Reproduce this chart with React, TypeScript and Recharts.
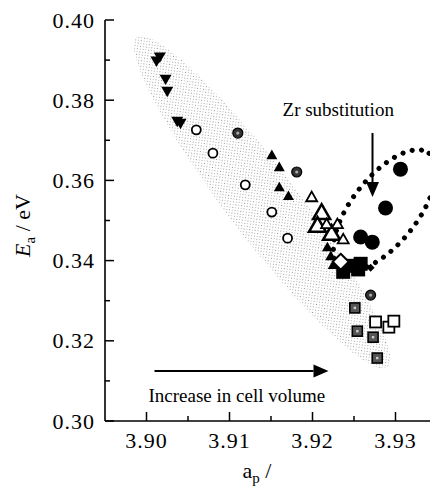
import {
  ReferenceDot,
  ReferenceLine,
  Scatter,
  ScatterChart,
  XAxis,
  YAxis,
} from 'recharts';

const SERIF = '"Liberation Serif", "Times New Roman", serif';

// lattice parameter a_p vs activation energy Ea (eV)
const downTriangles = [
  [3.9012, 0.39], [3.9016, 0.391], [3.9023, 0.3855], [3.9025, 0.3825],
  [3.9037, 0.375], [3.9041, 0.3745],
];
const openCircles = [
  [3.906, 0.3726], [3.908, 0.3668], [3.9119, 0.3589], [3.9151, 0.3521],
  [3.917, 0.3456],
];
const dotCircles = [[3.911, 0.3718], [3.9181, 0.3621], [3.927, 0.3314]];
const upTriangles = [
  [3.9151, 0.3661], [3.916, 0.3631], [3.916, 0.3581], [3.9171, 0.3559],
  [3.9218, 0.3431], [3.9222, 0.3409], [3.9225, 0.3387],
];
const openTrianglesLarge = [[3.9211, 0.3516], [3.9206, 0.3484], [3.9223, 0.3464]];
const openTrianglesSmall = [
  [3.9199, 0.3556], [3.9217, 0.3489], [3.923, 0.3489], [3.9237, 0.3451],
];
const filledSquares = [
  [3.9243, 0.3387], [3.9258, 0.3392], [3.9255, 0.3378], [3.9237, 0.3372],
];
const openDiamonds = [[3.9234, 0.3397]];
const smallDiamonds = [[3.927, 0.3382]];
const zrCircles = [[3.9258, 0.3459], [3.9272, 0.3446], [3.9288, 0.3531], [3.9306, 0.3628]];
const dotSquares = [[3.9251, 0.3282], [3.9254, 0.3224], [3.9273, 0.3209], [3.9278, 0.3157]];
const openSquares = [[3.9276, 0.3247], [3.9292, 0.3234], [3.9298, 0.3249]];

const xTicks = [3.9, 3.905, 3.91, 3.915, 3.92, 3.925, 3.93];
const yTicks = [0.3, 0.31, 0.32, 0.33, 0.34, 0.35, 0.36, 0.37, 0.38, 0.39, 0.4];

const toPts = (arr: number[][]) => arr.map(([x, y]) => ({ x, y }));

const tri = (cx: number, cy: number, s: number, down: boolean) => {
  const h = s * 0.87;
  const sg = down ? -1 : 1;
  return `${cx - s / 2},${cy + (sg * h) / 3} ${cx + s / 2},${cy + (sg * h) / 3} ${cx},${cy - (sg * 2 * h) / 3}`;
};

const shapes: Record<string, (p: any) => any> = {
  downTri: ({ cx, cy }) => <polygon points={tri(cx, cy, 12, true)} fill="#000" />,
  openCircle: ({ cx, cy }) => (
    <circle cx={cx} cy={cy} r={4.5} fill="#fff" stroke="#000" strokeWidth={1.8} />
  ),
  dotCircle: ({ cx, cy }) => (
    <g>
      <circle cx={cx} cy={cy} r={5} fill="#333" stroke="#000" strokeWidth={1.2} />
      <circle cx={cx} cy={cy} r={1.6} fill="#aaa" />
    </g>
  ),
  upTri: ({ cx, cy }) => <polygon points={tri(cx, cy, 11, false)} fill="#000" />,
  openTriLarge: ({ cx, cy }) => (
    <polygon points={tri(cx, cy, 17, false)} fill="#fff" stroke="#000" strokeWidth={2.5} strokeLinejoin="miter" />
  ),
  openTriSmall: ({ cx, cy }) => (
    <polygon points={tri(cx, cy, 11, false)} fill="#fff" stroke="#000" strokeWidth={1.8} />
  ),
  filledSquare: ({ cx, cy }) => <rect x={cx - 7} y={cy - 7} width={14} height={14} fill="#000" />,
  openDiamond: ({ cx, cy }) => (
    <polygon
      points={`${cx},${cy - 8} ${cx + 8},${cy} ${cx},${cy + 8} ${cx - 8},${cy}`}
      fill="#fff"
      stroke="#000"
      strokeWidth={2}
    />
  ),
  smallDiamond: ({ cx, cy }) => (
    <polygon points={`${cx},${cy - 4} ${cx + 4},${cy} ${cx},${cy + 4} ${cx - 4},${cy}`} fill="#000" />
  ),
  zrCircle: ({ cx, cy }) => <circle cx={cx} cy={cy} r={7.5} fill="#000" />,
  dotSquare: ({ cx, cy }) => (
    <g>
      <rect x={cx - 5} y={cy - 5} width={10} height={10} fill="#555" stroke="#000" strokeWidth={1.6} />
      <rect x={cx - 1.2} y={cy - 1.2} width={2.4} height={2.4} fill="#ccc" />
    </g>
  ),
  openSquare: ({ cx, cy }) => (
    <rect x={cx - 5.5} y={cy - 5.5} width={11} height={11} fill="#fff" stroke="#000" strokeWidth={1.8} />
  ),
};

const isMajorX = (v: number) => Math.round(v * 1000) % 10 === 0;
const isMajorY = (v: number) => Math.round(v * 100) % 2 === 0;

const tickText = { fontFamily: SERIF, fontSize: 22, letterSpacing: 1, fill: '#000' };

function BottomTick({ x, y, payload }: any) {
  const major = isMajorX(payload.value);
  return (
    <g>
      <line x1={x} x2={x} y1={y} y2={y - (major ? 9 : 5)} stroke="#000" strokeWidth={1.5} />
      {major && (
        <text x={x} y={y + 27} textAnchor="middle" {...tickText}>
          {payload.value.toFixed(2)}
        </text>
      )}
    </g>
  );
}

function TopTick({ x, y, payload }: any) {
  const major = isMajorX(payload.value);
  return <line x1={x} x2={x} y1={y} y2={y + (major ? 9 : 5)} stroke="#000" strokeWidth={1.5} />;
}

function LeftTick({ x, y, payload }: any) {
  const major = isMajorY(payload.value);
  return (
    <g>
      <line x1={x} x2={x + (major ? 9 : 5)} y1={y} y2={y} stroke="#000" strokeWidth={1.5} />
      {major && (
        <text x={x - 10} y={y + 7.5} textAnchor="end" {...tickText}>
          {payload.value.toFixed(2)}
        </text>
      )}
    </g>
  );
}

function RightTick({ x, y, payload }: any) {
  const major = isMajorY(payload.value);
  return <line x1={x} x2={x - (major ? 9 : 5)} y1={y} y2={y} stroke="#000" strokeWidth={1.5} />;
}

function ArrowShape({ x1, y1, x2, y2 }: any) {
  const len = Math.hypot(x2 - x1, y2 - y1) || 1;
  const ux = (x2 - x1) / len;
  const uy = (y2 - y1) / len;
  const hl = 15;
  const hw = 6.5;
  const bx = x2 - ux * hl;
  const by = y2 - uy * hl;
  return (
    <g>
      <line x1={x1} y1={y1} x2={bx} y2={by} stroke="#000" strokeWidth={2} />
      <polygon
        points={`${x2},${y2} ${bx - uy * hw},${by + ux * hw} ${bx + uy * hw},${by - ux * hw}`}
        fill="#000"
      />
    </g>
  );
}

const series = [
  { key: 'openTriLarge', data: openTrianglesLarge },
  { key: 'openTriSmall', data: openTrianglesSmall },
  { key: 'upTri', data: upTriangles },
  { key: 'downTri', data: downTriangles },
  { key: 'openCircle', data: openCircles },
  { key: 'dotCircle', data: dotCircles },
  { key: 'filledSquare', data: filledSquares },
  { key: 'openDiamond', data: openDiamonds },
  { key: 'smallDiamond', data: smallDiamonds },
  { key: 'zrCircle', data: zrCircles },
  { key: 'dotSquare', data: dotSquares },
  { key: 'openSquare', data: openSquares },
];

export default function App() {
  return (
    <div
      style={{
        position: 'absolute',
        left: 0,
        top: 0,
        width: 430,
        height: 489,
        overflow: 'hidden',
        background: '#fff',
      }}
    >
      <ScatterChart width={445} height={489} margin={{ top: 20, right: 8, bottom: 0, left: 0 }}>
        <defs>
          <pattern id="stipple" width="4" height="4" patternUnits="userSpaceOnUse">
            <rect x="0" y="0" width="1" height="1" fill="#999" />
            <rect x="2" y="2" width="1" height="1" fill="#bbb" />
          </pattern>
        </defs>
        <XAxis
          type="number"
          dataKey="x"
          domain={[3.895, 3.935]}
          ticks={xTicks}
          interval={0}
          height={68}
          tickSize={0}
          tickMargin={0}
          tickLine={false}
          tick={BottomTick}
          allowDataOverflow
          axisLine={{ stroke: '#000', strokeWidth: 1.6 }}
          label={{
            content: ({ viewBox }: any) => (
              <text x={viewBox.x + 152} y={viewBox.y + 57} textAnchor="middle" fontFamily={SERIF} fontSize={22}>
                a<tspan fontSize={15} dy={5}>p</tspan>
                <tspan dy={-5}>{'  /'}</tspan>
              </text>
            ),
          }}
        />
        <XAxis
          xAxisId="top"
          orientation="top"
          type="number"
          dataKey="x"
          domain={[3.895, 3.935]}
          ticks={xTicks}
          interval={0}
          height={0}
          tickSize={0}
          tickMargin={0}
          tickLine={false}
          tick={TopTick}
          allowDataOverflow
          axisLine={{ stroke: '#000', strokeWidth: 1.6 }}
        />
        <YAxis
          type="number"
          dataKey="y"
          domain={[0.3, 0.4]}
          ticks={yTicks}
          interval={0}
          width={105}
          tickSize={0}
          tickMargin={0}
          tickLine={false}
          tick={LeftTick}
          allowDataOverflow
          axisLine={{ stroke: '#000', strokeWidth: 1.6 }}
          label={{
            content: ({ viewBox }: any) => {
              const cx = viewBox.x + 30;
              const cy = viewBox.y + viewBox.height / 2 + 5;
              return (
                <text
                  x={cx}
                  y={cy}
                  transform={`rotate(-90 ${cx} ${cy})`}
                  textAnchor="middle"
                  fontFamily={SERIF}
                  fontSize={22}
                >
                  <tspan fontStyle="italic">E</tspan>
                  <tspan fontSize={15} dy={5}>a</tspan>
                  <tspan dy={-5}>{' / eV'}</tspan>
                </text>
              );
            },
          }}
        />
        <YAxis
          yAxisId="right"
          orientation="right"
          type="number"
          dataKey="y"
          domain={[0.3, 0.4]}
          ticks={yTicks}
          interval={0}
          width={0}
          tickSize={0}
          tickMargin={0}
          tickLine={false}
          tick={RightTick}
          allowDataOverflow
          axisLine={{ stroke: '#000', strokeWidth: 1.6 }}
        />

        {/* stippled guide band */}
        <ReferenceDot
          x={3.9139}
          y={0.3546}
          r={0}
          shape={({ cx, cy }: any) => (
            <ellipse
              cx={cx}
              cy={cy}
              rx={207}
              ry={35}
              transform={`rotate(52.8 ${cx} ${cy})`}
              fill="url(#stipple)"
              stroke="none"
            />
          )}
        />
        {/* dotted Zr group outline */}
        <ReferenceDot
          x={3.9287}
          y={0.3526}
          r={0}
          shape={({ cx, cy }: any) => (
            <ellipse
              cx={cx}
              cy={cy}
              rx={72}
              ry={33}
              transform={`rotate(-52 ${cx} ${cy})`}
              fill="none"
              stroke="#000"
              strokeWidth={5}
              strokeDasharray="0 9.5"
              strokeLinecap="round"
            />
          )}
        />

        {series.map((s) => (
          <Scatter
            key={s.key}
            data={toPts(s.data)}
            shape={shapes[s.key]}
            isAnimationActive={false}
          />
        ))}

        <ReferenceLine
          segment={[
            { x: 3.92723, y: 0.37182 },
            { x: 3.92723, y: 0.35586 },
          ]}
          shape={ArrowShape}
        />
        <ReferenceLine
          segment={[
            { x: 3.90096, y: 0.31247 },
            { x: 3.92193, y: 0.31247 },
          ]}
          shape={ArrowShape}
        />
        <ReferenceDot
          x={3.91639}
          y={0.37606}
          r={0}
          shape={({ cx, cy }: any) => (
            <text x={cx} y={cy} fontFamily={SERIF} fontSize={19} fill="#000">
              Zr substitution
            </text>
          )}
        />
        <ReferenceDot
          x={3.90024}
          y={0.30474}
          r={0}
          shape={({ cx, cy }: any) => (
            <text x={cx} y={cy} fontFamily={SERIF} fontSize={19} fill="#000">
              Increase in cell volume
            </text>
          )}
        />
      </ScatterChart>
    </div>
  );
}
